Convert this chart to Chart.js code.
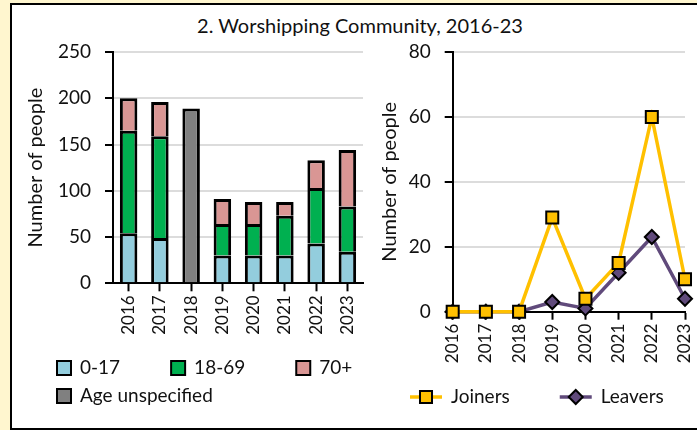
<!DOCTYPE html>
<html>
<head>
<meta charset="utf-8">
<script src="https://cdn.jsdelivr.net/npm/chart.js@4/dist/chart.umd.min.js"></script>
<style>
  body { margin: 0; background: #FFF6CF; width: 697px; height: 430px; overflow: hidden; position: relative; font-family: Lato, sans-serif; }
  #panel { position: absolute; left: 10px; top: 3px; width: 720px; height: 423px; background: #fff; border: 2px solid #000; }
  #titre { position: absolute; left: 0; top: 13px; width: 720px; text-align: center; font-size: 20px; color: #111; line-height: 24px; }
  canvas { position: absolute; top: 0; }
  #ages { left: 0; }
  #flux { left: 360px; }
</style>
</head>
<body>
<div id="panel"></div>
<div id="titre">2. Worshipping Community, 2016-23</div>
<canvas id="ages" width="365" height="430"></canvas>
<canvas id="flux" width="337" height="430"></canvas>
<script>
// donnees
const years = ['2016', '2017', '2018', '2019', '2020', '2021', '2022', '2023'];
const age0_17 = [54, 49, null, 30, 30, 30, 43, 34];
const age18_69 = [111, 110, null, 34, 34, 43, 60, 49];
const age70plus = [35, 37, null, 27, 24, 15, 30, 61];
const ageUnspecified = [null, null, 189, null, null, null, null, null];
const joiners = [0, 0, 0, 29, 4, 15, 60, 10];
const leavers = [0, 0, 0, 3, 1, 12, 23, 4];
const leftTicks = [0, 50, 100, 150, 200, 250];
const rightTicks = [0, 20, 40, 60, 80];

Chart.defaults.font.family = 'Lato';
Chart.defaults.color = '#111';

const gris = '#DCDCDC';

// legende a carres (graphique de gauche)
const legendeCarres = {
  id: 'legendeCarres',
  afterDraw(chart, args, opts) {
    const ctx = chart.ctx;
    ctx.save();
    ctx.font = '19px Lato';
    ctx.textBaseline = 'middle';
    let x = opts.x, row = 0;
    chart.data.datasets.forEach((ds, i) => {
      if (opts.breaks.includes(i)) { row++; x = opts.x; }
      const y = opts.y + row * opts.rowGap;
      ctx.fillStyle = ds.backgroundColor;
      ctx.fillRect(x, y - 7, 14, 14);
      ctx.strokeStyle = '#000';
      ctx.lineWidth = 2;
      ctx.strokeRect(x, y - 7, 14, 14);
      ctx.fillStyle = '#111';
      ctx.fillText(ds.label, x + 23, y);
      x += 23 + ctx.measureText(ds.label).width + opts.gap;
    });
    ctx.restore();
  }
};

// legende ligne + marqueur (graphique de droite)
const legendeLignes = {
  id: 'legendeLignes',
  afterDraw(chart, args, opts) {
    const ctx = chart.ctx;
    ctx.save();
    ctx.font = '19px Lato';
    ctx.textBaseline = 'middle';
    let x = opts.x;
    const y = opts.y;
    chart.data.datasets.forEach(ds => {
      ctx.strokeStyle = ds.borderColor;
      ctx.lineWidth = ds.borderWidth;
      ctx.beginPath();
      ctx.moveTo(x, y);
      ctx.lineTo(x + 32, y);
      ctx.stroke();
      const cx = x + 16, r = ds.pointRadius;
      ctx.fillStyle = ds.pointBackgroundColor;
      ctx.strokeStyle = ds.pointBorderColor;
      ctx.lineWidth = ds.pointBorderWidth;
      ctx.beginPath();
      if (ds.pointStyle === 'rect') {
        const s = r * Math.SQRT1_2;
        ctx.rect(cx - s, y - s, 2 * s, 2 * s);
      } else {
        ctx.moveTo(cx - r, y); ctx.lineTo(cx, y - r); ctx.lineTo(cx + r, y); ctx.lineTo(cx, y + r); ctx.closePath();
      }
      ctx.fill();
      ctx.stroke();
      ctx.fillStyle = '#111';
      ctx.fillText(ds.label, x + 41, y);
      x += 41 + ctx.measureText(ds.label).width + opts.gap;
    });
    ctx.restore();
  }
};

function axeX(h, decale) {
  return {
    offset: decale,
    grid: { display: true, drawOnChartArea: false, offset: false, tickLength: 8, tickColor: '#000', tickWidth: 2 },
    border: { color: '#000', width: 2 },
    ticks: { minRotation: 90, maxRotation: 90, autoSkip: false, padding: 4, font: { size: 17 }, color: '#111' },
    afterFit(scale) {
      scale.height = h;
      scale.paddingLeft = 0;
      scale.paddingRight = 0;
    }
  };
}

function axeY(max, step, w, titlePad, tickVals) {
  return {
    min: 0, max: max,
    afterBuildTicks(scale) { scale.ticks = tickVals.map(v => ({ value: v })); },
    grid: { color: gris, lineWidth: 2, tickLength: 8, tickColor: '#000', tickWidth: 2 },
    border: { color: '#000', width: 2 },
    ticks: { stepSize: step, padding: 14, font: { size: 19 }, color: '#111' },
    title: { display: true, text: 'Number of people', font: { size: 20 }, color: '#111', padding: { top: titlePad, bottom: 0 } },
    afterFit(scale) { scale.width = w; }
  };
}

const xLeft = axeX(146.7, true);
xLeft.stacked = true;
const yLeft = axeY(250, 50, 113, 24, leftTicks);
yLeft.stacked = true;

new Chart(document.getElementById('ages'), {
  type: 'bar',
  data: {
    labels: years,
    datasets: [
      { label: '0-17', data: age0_17, backgroundColor: '#93CDDD' },
      { label: '18-69', data: age18_69, backgroundColor: '#00B050' },
      { label: '70+', data: age70plus, backgroundColor: '#D99694' },
      { label: 'Age unspecified', data: ageUnspecified, backgroundColor: '#808080' }
    ]
  },
  options: {
    responsive: false,
    animation: false,
    datasets: { bar: { borderColor: '#000', borderWidth: 3, borderSkipped: 'start', categoryPercentage: 1, barPercentage: 0.56 } },
    layout: { padding: { left: 0, top: 52, right: 2, bottom: 0 } },
    scales: { x: xLeft, y: yLeft },
    plugins: {
      legend: { display: false },
      tooltip: { enabled: false },
      legendeCarres: { x: 57, y: 368, rowGap: 28, gap: 51, breaks: [3] }
    }
  },
  plugins: [legendeCarres]
});

new Chart(document.getElementById('flux'), {
  type: 'line',
  data: {
    labels: years,
    datasets: [
      { label: 'Joiners', data: joiners, borderColor: '#FFC000', borderWidth: 3.5, pointStyle: 'rect', pointRadius: 8.5,
        pointBackgroundColor: '#FFC000', pointBorderColor: '#000', pointBorderWidth: 2, tension: 0, clip: false },
      { label: 'Leavers', data: leavers, borderColor: '#604A7B', borderWidth: 3.5, pointStyle: 'rectRot', pointRadius: 7,
        pointBackgroundColor: '#604A7B', pointBorderColor: '#000', pointBorderWidth: 2, tension: 0, clip: false }
    ]
  },
  options: {
    responsive: false,
    animation: false,
    layout: { padding: { left: 0, top: 52, right: 12, bottom: 0 } },
    scales: { x: axeX(118.3, false), y: axeY(80, 20, 92.7, 18, rightTicks) },
    plugins: {
      legend: { display: false },
      tooltip: { enabled: false },
      legendeLignes: { x: 50, y: 397, gap: 50 }
    }
  },
  plugins: [legendeLignes]
});
</script>
</body>
</html>
